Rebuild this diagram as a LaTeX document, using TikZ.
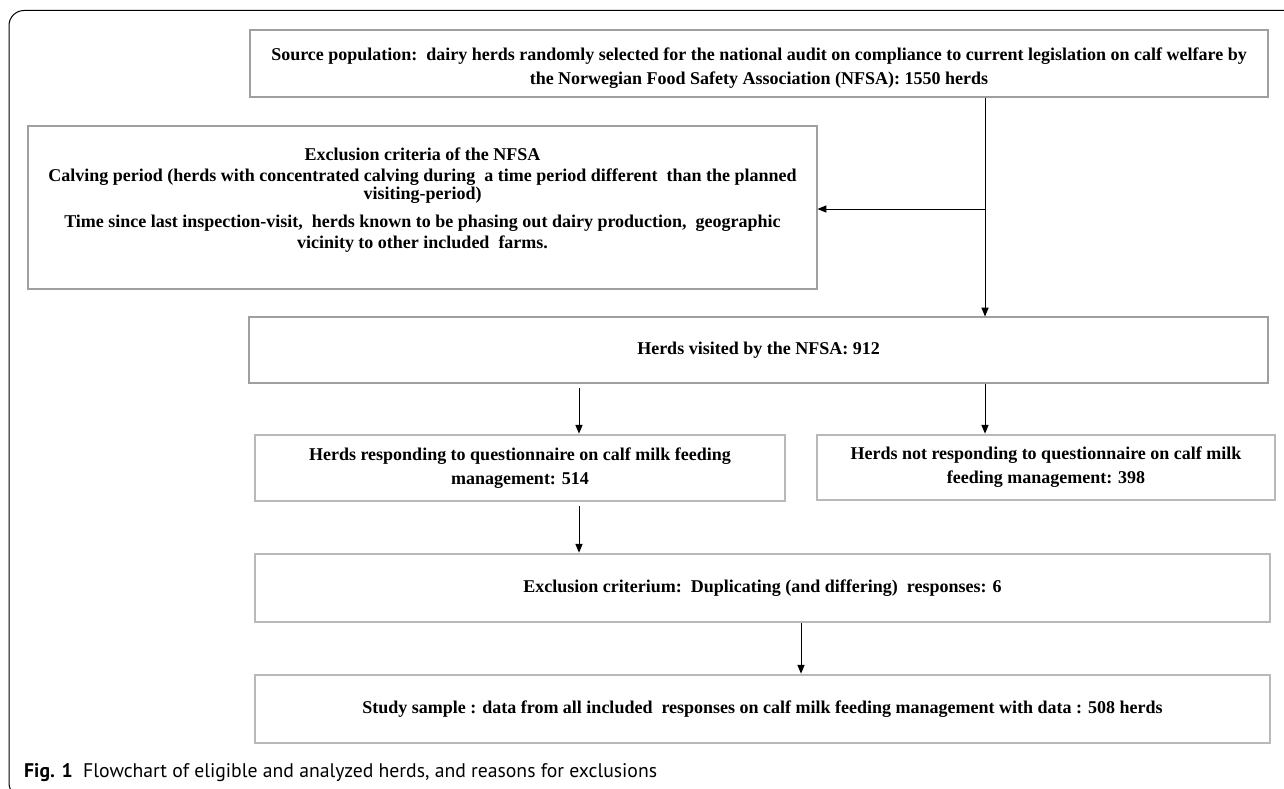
\documentclass[tikz,border=0pt]{standalone}
\usepackage{fontspec}
\setmainfont{Liberation Serif}
\newfontfamily\capfont{PT Sans}
\usetikzlibrary{arrows}

\begin{document}
\begin{tikzpicture}[x=1pt,y=-1pt]

	\tikzstyle thin box=[draw=gray!75, line width=1.2pt, align=center, inner sep=0pt, font=\fontsize{18}{24}\selectfont\bfseries];
	\tikzstyle thick box=[thin box, draw=gray!55, line width=2.8pt];
	\tikzstyle flow lines=[line width=1pt, -triangle 45];

	\clip (0,0) rectangle (1284,789);
	\draw[line width=1pt, rounded corners=15pt] (9,10.5) rectangle (1320,798);

	\node[thin box, minimum width=1018, minimum height=67] (source) at (759,63.5)
		{\rule{0pt}{21pt}Source population:\ \ dairy herds randomly selected for the national audit on compliance to current legislation on calf welfare by\\
		 the Norwegian Food Safety Association (NFSA): 1550 herds};
	\node[thin box, minimum width=789, minimum height=163] (excl) at (422.5,207.5)
		{Exclusion criteria of the NFSA\\[-3pt]
		 Calving period (herds with concentrated calving during\ \ a time period different\ \ than the planned\\[-6pt]
		 visiting-period)\\[4pt]
		 Time since last inspection-visit,\ \ herds known to be phasing out dairy production,\ \ geographic\\[-3pt]
		 vicinity to other included\ \ farms.\\[-5pt]\mbox{}};
	\node[thin box, minimum width=1019, minimum height=66] (visit) at (758.5,350)
		{Herds visited by the NFSA: 912};
	\node[thick box, minimum width=530, minimum height=66] (resp) at (520,468)
		{Herds responding to questionnaire on calf milk feeding\\ management: 514};
	\node[thick box, minimum width=458, minimum height=65] (nonresp) at (1046,467.5)
		{Herds not responding to questionnaire on calf milk\\ feeding management: 398};
	\node[thick box, minimum width=1015, minimum height=68] (dup) at (762.5,588)
		{Exclusion criterium:\ \ Duplicating (and differing)\ \ responses: 6};
	\node[thick box, minimum width=1015, minimum height=68] (study) at (762.5,709)
		{Study sample : data from all included\ \ responses on calf milk feeding management with data : 508 herds};

	\coordinate (split) at (985,209);
	\coordinate (left drop) at (579,0);
	\coordinate (right drop) at (801,0);

	\draw[flow lines] (source.south -| split) -- (visit.north -| split);
	\draw[flow lines] (split) -- (excl.east |- split);
	\draw[flow lines, shorten <=4pt] (visit.south -| left drop) -- (resp.north -| left drop);
	\draw[flow lines] (visit.south -| split) -- (nonresp.north -| split);
	\draw[flow lines, shorten <=4pt] (resp.south -| left drop) -- (dup.north -| left drop);
	\draw[flow lines] (dup.south -| right drop) -- (study.north -| right drop);

	\node[anchor=west, inner sep=0pt, font=\capfont\fontsize{19.7}{22}\selectfont] (caption) at (24,773)
		{\textbf{Fig. 1}\ \ Flowchart of eligible and analyzed herds, and reasons for exclusions};

\end{tikzpicture}
\end{document}
